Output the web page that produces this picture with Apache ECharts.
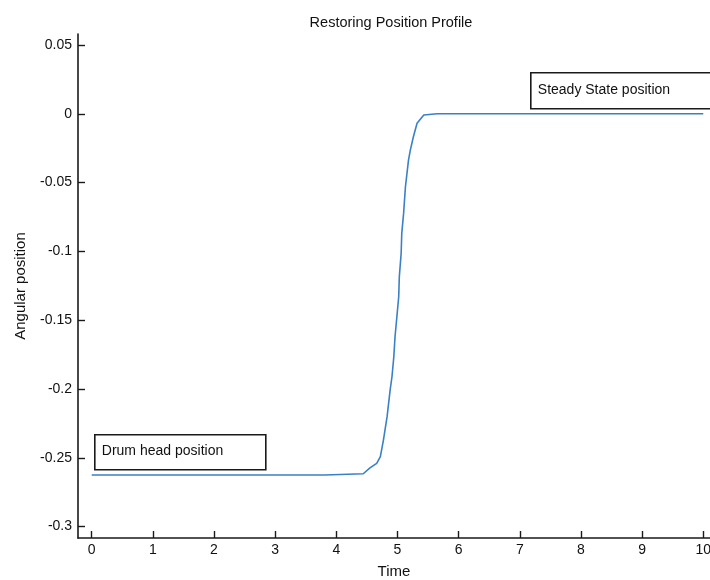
<!DOCTYPE html>
<html>
<head>
<meta charset="utf-8">
<title>Restoring Position Profile</title>
<script src="https://cdn.jsdelivr.net/npm/echarts@6/dist/echarts.min.js"></script>
<style>
  html, body { margin: 0; padding: 0; background: #fff; overflow: hidden; }
  #chart { width: 710px; height: 580px; }
</style>
</head>
<body>
<div id="chart"></div>
<script>
// Angular position of the drum head over time
const timeValues = [0, 3.81, 3.82, 4.44, 4.55, 4.66, 4.72, 4.77, 4.83, 4.88, 4.91, 4.94, 4.96, 4.99,
  5.02, 5.03, 5.06, 5.07, 5.10, 5.13, 5.18, 5.21, 5.26, 5.32, 5.43, 5.65, 10];
const positionValues = [-0.2625, -0.2625, -0.2616, -0.2616, -0.2574, -0.254, -0.2492, -0.2371, -0.2201,
  -0.2007, -0.1911, -0.1766, -0.162, -0.1475, -0.133, -0.1184, -0.1014, -0.0869, -0.0724, -0.053,
  -0.0336, -0.0264, -0.0167, -0.0069, -0.0009, 0, 0];

// Axis ticks and their labels
const xTickValues = [0, 1, 2, 3, 4, 5, 6, 7, 8, 9, 10];
const xTickLabels = ['0', '1', '2', '3', '4', '5', '6', '7', '8', '9', '10'];
const yTickValues = [0.05, 0, -0.05, -0.1, -0.15, -0.2, -0.25, -0.3];
const yTickLabels = ['0.05', '0', '-0.05', '-0.1', '-0.15', '-0.2', '-0.25', '-0.3'];

// Text annotations
const annotationTexts = ['Drum head position', 'Steady State position'];

const FONT = '"Liberation Sans", Arial, Helvetica, sans-serif';
const AXIS_COLOR = '#1a1a1a';

const seriesData = timeValues.map((t, i) => [t, positionValues[i]]);

const chart = echarts.init(document.getElementById('chart'), null, { renderer: 'canvas' });

function annotationBox(x, y, w, h, text) {
  return {
    type: 'group',
    left: x,
    top: y,
    children: [
      {
        type: 'rect',
        shape: { x: 0, y: 0, width: w, height: h },
        style: { fill: '#fff', stroke: AXIS_COLOR, lineWidth: 1.6 }
      },
      {
        type: 'text',
        x: 7,
        y: h / 2 - 1,
        style: {
          text: text,
          fill: '#111',
          font: '14px ' + FONT,
          verticalAlign: 'middle'
        }
      }
    ]
  };
}

chart.setOption({
  backgroundColor: '#fff',
  animation: false,
  title: {
    text: 'Restoring Position Profile',
    left: 386,
    top: 10,
    textAlign: 'center',
    textStyle: { fontFamily: FONT, fontSize: 14.5, fontWeight: 'normal', color: '#111' }
  },
  grid: { left: 78, right: 0, top: 34, bottom: 42, containLabel: false, outerBoundsMode: 'none' },
  xAxis: {
    type: 'value',
    min: -0.224,
    max: 10.11,
    name: 'Time',
    nameLocation: 'middle',
    nameGap: 26,
    nameTextStyle: { fontFamily: FONT, fontSize: 15, color: '#111' },
    axisLine: { show: true, onZero: false, lineStyle: { color: AXIS_COLOR, width: 1.6 } },
    axisTick: { show: true, inside: true, length: 7, customValues: xTickValues,
      lineStyle: { color: AXIS_COLOR, width: 1.4 } },
    axisLabel: {
      customValues: xTickValues,
      margin: 5,
      fontFamily: FONT, fontSize: 14, color: '#111',
      formatter: (v) => {
        const i = xTickValues.indexOf(v);
        return i >= 0 ? xTickLabels[i] : String(v);
      }
    },
    splitLine: { show: false }
  },
  yAxis: {
    type: 'value',
    min: -0.3083,
    max: 0.058,
    name: 'Angular position',
    nameLocation: 'middle',
    nameGap: 50,
    nameRotate: 90,
    nameTextStyle: { fontFamily: FONT, fontSize: 15, color: '#111' },
    axisLine: { show: true, onZero: false, lineStyle: { color: AXIS_COLOR, width: 1.6 } },
    axisTick: { show: true, inside: true, length: 7, customValues: yTickValues,
      lineStyle: { color: AXIS_COLOR, width: 1.4 } },
    axisLabel: {
      customValues: yTickValues,
      margin: 6,
      fontFamily: FONT, fontSize: 14, color: '#111',
      formatter: (v) => {
        let idx = -1;
        yTickValues.forEach((tv, i) => { if (Math.abs(tv - v) < 1e-9) idx = i; });
        return idx >= 0 ? yTickLabels[idx] : String(v);
      }
    },
    splitLine: { show: false }
  },
  series: [{
    type: 'line',
    data: seriesData,
    showSymbol: false,
    smooth: false,
    lineStyle: { color: '#3a80c6', width: 1.6 },
    z: 3
  }],
  graphic: [
    annotationBox(94, 434, 171, 35, annotationTexts[0]),
    annotationBox(530, 72, 190, 36, annotationTexts[1])
  ]
});
</script>
</body>
</html>
